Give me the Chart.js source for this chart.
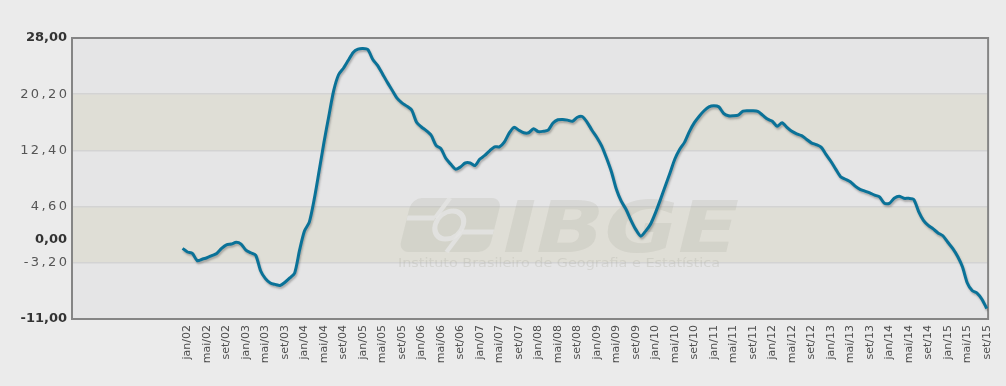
<!DOCTYPE html>
<html>
<head>
<meta charset="utf-8">
<script src="https://cdn.jsdelivr.net/npm/chart.js@4"></script>
<style>
  html, body { margin: 0; padding: 0; background: #ebebeb; }
  canvas { display: block; }
</style>
</head>
<body>
<canvas id="grafico" width="1006" height="386"></canvas>
<script>
  // meses da série: dez/01 até set/15
  const mesesAbrev = ['jan', 'fev', 'mar', 'abr', 'mai', 'jun', 'jul', 'ago', 'set', 'out', 'nov', 'dez'];
  const meses = [];
  for (let ano = 2001, m = 11; meses.length < 166; m++) {
    if (m === 12) { m = 0; ano++; }
    meses.push(mesesAbrev[m] + '/' + String(ano).slice(2));
  }

  // variação acumulada em 12 meses (%)
  const valores = [
    -1.2, -1.7, -1.9, -2.9, -2.7, -2.5, -2.2, -1.9, -1.2, -0.7,
    -0.6, -0.35, -0.6, -1.45, -1.8, -2.15, -4.3, -5.4, -6.0, -6.2,
    -6.35, -5.9, -5.3, -4.6, -1.45, 1.2, 2.45, 5.6, 9.5, 13.5,
    17.15, 20.7, 22.9, 23.8, 24.9, 26.0, 26.45, 26.55, 26.4, 25.05,
    24.2, 23.05, 21.85, 20.75, 19.65, 19.0, 18.55, 18.0, 16.3, 15.65,
    15.15, 14.5, 13.1, 12.65, 11.3, 10.5, 9.8, 10.1, 10.65, 10.65,
    10.3, 11.2, 11.7, 12.35, 12.9, 12.9, 13.55, 14.8, 15.6, 15.2,
    14.85, 14.85, 15.4, 15.0, 15.05, 15.2, 16.2, 16.65, 16.7, 16.6,
    16.45, 17.0, 17.1, 16.3, 15.2, 14.2, 13.0, 11.3, 9.4, 7.0,
    5.35, 4.2, 2.7, 1.4, 0.5, 1.2, 2.15, 3.7, 5.5, 7.4,
    9.25, 11.2, 12.55, 13.55, 15.05, 16.25, 17.15, 17.9, 18.45, 18.6,
    18.45, 17.55, 17.2, 17.2, 17.3, 17.85, 17.9, 17.9, 17.8, 17.3,
    16.75, 16.45, 15.75, 16.25, 15.6, 15.05, 14.7, 14.45, 13.95, 13.45,
    13.2, 12.85, 11.85, 10.9, 9.8, 8.75, 8.4, 8.05, 7.45, 7.0,
    6.75, 6.5, 6.2, 5.95, 5.05, 5.05, 5.75, 6.05, 5.75, 5.75,
    5.6, 3.95, 2.7, 2.0, 1.5, 0.95, 0.55, -0.35, -1.2, -2.3,
    -3.75, -6.0, -7.05, -7.4, -8.25, -9.55
  ];

  // rótulos do eixo x: de quatro em quatro meses a partir de jan/02
  const rotulosX = meses.filter((m, i) => i % 4 === 1);
  const ticksY = [-11, -3.2, 0, 4.6, 12.4, 20.2, 28];
  const ticksDestaque = [-11, 0, 28];
  const linhasGrade = [20.2, 12.4, 4.6, -3.2];
  const faixas = [[12.4, 20.2], [-3.2, 4.6]];

  const formataY = (v) => v.toFixed(2).replace('.', ',');
  const rotulosDestaque = ticksDestaque.map(formataY);
  const espaco = 2.4;

  const fundoPlugin = {
    id: 'fundo',
    beforeDraw(chart) {
      const { ctx, chartArea: a, scales: { y } } = chart;

      // rótulos normais do eixo y saem mais espaçados que os em negrito
      if (!y._espacado) {
        const desenha = y.drawLabels;
        y.drawLabels = function (area) {
          const c = this.ctx;
          c.fillText = function (t, px, py) {
            const normal = !rotulosDestaque.includes(t);
            this.letterSpacing = normal ? espaco + 'px' : '0px';
            return CanvasRenderingContext2D.prototype.fillText.call(this, t, normal ? px + espaco : px, py);
          };
          desenha.call(this, area);
          delete c.fillText;
          c.letterSpacing = '0px';
        };
        y._espacado = true;
      }

      ctx.save();
      ctx.fillStyle = '#ebebeb';
      ctx.fillRect(0, 0, chart.width, chart.height);
      ctx.fillStyle = '#e5e5e6';
      ctx.fillRect(a.left, a.top, a.right - a.left, a.bottom - a.top);
      ctx.fillStyle = '#dfded6';
      faixas.forEach(([de, ate]) => {
        const y1 = y.getPixelForValue(ate), y2 = y.getPixelForValue(de);
        ctx.fillRect(a.left, y1, a.right - a.left, y2 - y1);
      });
      ctx.restore();
    },
    beforeDatasetsDraw(chart) {
      const { ctx, chartArea: a } = chart;
      ctx.save();
      // marca d'água IBGE
      ctx.fillStyle = 'rgba(175,175,165,0.24)';
      ctx.save();
      ctx.translate(400, 198);
      ctx.transform(1, 0, -0.25, 1, 0, 0);
      ctx.beginPath();
      ctx.roundRect(12, 0, 90, 54, 10);
      ctx.fill();
      ctx.strokeStyle = 'rgba(229,229,228,0.8)';
      ctx.lineWidth = 5;
      ctx.beginPath();
      ctx.moveTo(12, 20); ctx.lineTo(40, 20);
      ctx.moveTo(70, 34); ctx.lineTo(102, 34);
      ctx.moveTo(50, 0); ctx.lineTo(40, 20);
      ctx.moveTo(70, 34); ctx.lineTo(60, 54);
      ctx.stroke();
      ctx.beginPath();
      ctx.arc(56, 27, 14, 0, Math.PI * 2);
      ctx.stroke();
      ctx.restore();

      ctx.save();
      ctx.font = 'italic bold 72px "DejaVu Sans"';
      ctx.textBaseline = 'alphabetic';
      const w = ctx.measureText('IBGE').width;
      ctx.translate(503, 252);
      ctx.scale(236 / w, 1);
      ctx.fillText('IBGE', 0, 0);
      ctx.restore();

      ctx.fillStyle = 'rgba(175,175,165,0.3)';
      ctx.font = '13px "DejaVu Sans"';
      const sub = 'Instituto Brasileiro de Geografia e Estatística';
      const ws = ctx.measureText(sub).width;
      ctx.save();
      ctx.translate(398, 267);
      ctx.scale(322 / ws, 1);
      ctx.fillText(sub, 0, 0);
      ctx.restore();

      // moldura da área do gráfico
      ctx.strokeStyle = '#858585';
      ctx.lineWidth = 2;
      ctx.strokeRect(a.left, a.top, a.right - a.left, a.bottom - a.top);
      ctx.restore();
    },
    beforeDatasetDraw(chart) {
      const ctx = chart.ctx;
      ctx.save();
      ctx.shadowColor = 'rgba(60,60,60,0.35)';
      ctx.shadowOffsetX = 1;
      ctx.shadowOffsetY = 2;
      ctx.shadowBlur = 2;
    },
    afterDatasetDraw(chart) {
      chart.ctx.restore();
    }
  };

  new Chart(document.getElementById('grafico'), {
    type: 'line',
    data: {
      datasets: [{
        data: valores.map((v, i) => ({ x: i, y: v })),
        borderColor: '#0a7298',
        borderWidth: 3,
        pointRadius: 0,
        tension: 0.25,
        fill: false
      }]
    },
    options: {
      responsive: false,
      animation: false,
      layout: { padding: { top: 38, right: 12, left: 0, bottom: 0 } },
      plugins: { legend: { display: false }, tooltip: { enabled: false } },
      scales: {
        x: {
          type: 'linear',
          min: -22.69,
          max: 165.27,
          afterBuildTicks: (axis) => {
            axis.ticks = rotulosX.map((r, i) => ({ value: 1 + i * 4 }));
          },
          afterFit: (scale) => { scale.height = 67; },
          grid: { display: false, drawTicks: false },
          border: { display: false },
          ticks: {
            autoSkip: false,
            minRotation: 90,
            maxRotation: 90,
            padding: 6,
            color: '#4d4d4d',
            font: { family: 'DejaVu Sans', size: 11 },
            callback: (v) => meses[v]
          }
        },
        y: {
          min: -11,
          max: 28,
          afterBuildTicks: (axis) => {
            axis.ticks = ticksY.map(v => ({ value: v }));
          },
          afterFit: (scale) => { scale.width = 72; },
          grid: {
            drawTicks: false,
            color: (c) => (c.tick && linhasGrade.includes(c.tick.value)) ? '#d3d3d3' : 'rgba(0,0,0,0)',
            lineWidth: 1.5
          },
          border: { display: false },
          ticks: {
            padding: 5,
            color: (c) => ticksDestaque.includes(c.tick.value) ? '#333' : '#555',
            font: (c) => ({
              family: 'DejaVu Sans',
              size: 13,
              weight: ticksDestaque.includes(c.tick && c.tick.value) ? 'bold' : 'normal'
            }),
            callback: formataY
          }
        }
      }
    },
    plugins: [fundoPlugin]
  });
</script>
</body>
</html>
